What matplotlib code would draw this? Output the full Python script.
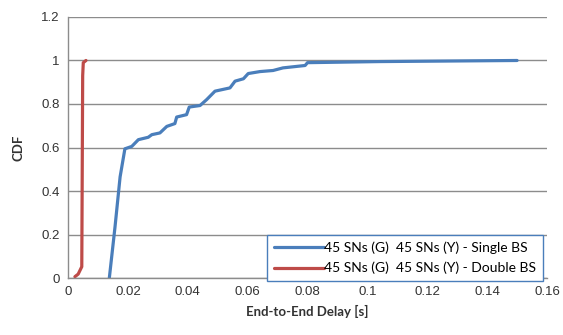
import matplotlib
matplotlib.use("Agg")
import matplotlib.pyplot as plt

# CDF of end-to-end delay
single_delay = [0.0138, 0.0157, 0.0174, 0.0190, 0.0213, 0.0235, 0.0268, 0.0280,
                0.0307, 0.0330, 0.0357, 0.0363, 0.0396, 0.0405, 0.0441, 0.0463,
                0.0491, 0.0541, 0.0558, 0.0586, 0.0602, 0.0641, 0.0685, 0.0718,
                0.0792, 0.0800, 0.1040, 0.1500]
single_cdf = [0.0, 0.235, 0.465, 0.594, 0.605, 0.636, 0.647, 0.659,
              0.667, 0.697, 0.710, 0.740, 0.751, 0.786, 0.793, 0.820,
              0.859, 0.874, 0.905, 0.916, 0.940, 0.949, 0.954, 0.966,
              0.977, 0.990, 0.995, 1.0]

double_delay = [0.0023, 0.0034, 0.0046, 0.0049, 0.0051, 0.0060]
double_cdf = [0.006, 0.018, 0.052, 0.93, 0.99, 1.0]

series_labels = ["45 SNs (G)  45 SNs (Y) - Single BS",
                 "45 SNs (G)  45 SNs (Y) - Double BS"]
x_ticks = [0, 0.02, 0.04, 0.06, 0.08, 0.1, 0.12, 0.14, 0.16]
y_ticks = [0, 0.2, 0.4, 0.6, 0.8, 1, 1.2]

fig = plt.figure(figsize=(5.63, 3.35), dpi=100)
ax = fig.add_axes([0.1208, 0.1701, 0.8508, 0.7792])

ax.plot(single_delay, single_cdf, color="#4a7ebb", lw=2.3, label=series_labels[0],
        solid_capstyle="round", solid_joinstyle="round")
ax.plot(double_delay, double_cdf, color="#be4b48", lw=2.3, label=series_labels[1],
        solid_capstyle="round", solid_joinstyle="round")

ax.set_xlim(0, 0.16)
ax.set_ylim(0, 1.2)
ax.set_xticks(x_ticks)
ax.set_xticklabels([f"{v:g}" for v in x_ticks])
ax.set_yticks(y_ticks)
ax.set_yticklabels([f"{v:g}" for v in y_ticks])

ax.grid(axis="y", color="#8c8c8c", lw=1)
ax.set_axisbelow(True)
for side in ["top", "right"]:
    ax.spines[side].set_visible(False)
for side in ["left", "bottom"]:
    ax.spines[side].set_color("#8c8c8c")
    ax.spines[side].set_linewidth(1)
ax.tick_params(axis="both", colors="#8c8c8c", length=0, pad=6)
for lbl in ax.get_xticklabels() + ax.get_yticklabels():
    lbl.set_color("#333333")
    lbl.set_fontfamily("Liberation Sans")
    lbl.set_fontsize(9.5)

ax.set_xlabel("End-to-End Delay [s]", fontsize=9.5, fontweight="bold",
              family="Lato", color="#333333", labelpad=5)
ax.set_ylabel("CDF", fontsize=9.5, fontweight="bold", family="Lato",
              color="#333333", labelpad=12)

leg = ax.legend(loc="lower right", bbox_to_anchor=(0.965, 0.16),
                bbox_transform=fig.transFigure, fancybox=False, framealpha=1,
                edgecolor="#4a7ebb", handlelength=3.6, handletextpad=0.05,
                borderpad=0.5, labelspacing=0.55, borderaxespad=0,
                prop={"family": "Lato", "size": 10})
leg.get_frame().set_linewidth(1)

fig.savefig("out.png", dpi=100)
